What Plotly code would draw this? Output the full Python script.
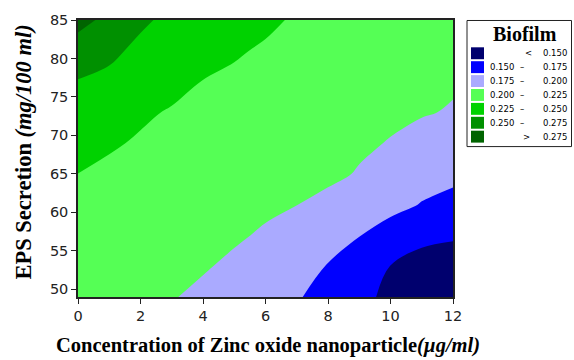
import plotly.graph_objects as go

# ---------------- data ----------------
zno_conc = [0, 1, 2, 3, 4, 5, 6, 7, 8, 9, 10, 11, 12]          # x: µg/ml
eps_secretion = [49, 53, 57, 61, 65, 69, 73, 77, 81, 85]       # y: mg/100 ml

# biofilm response, one row per EPS value (rows) / ZnO concentration (columns)
biofilm = [
    [0.2105, 0.2075, 0.2043, 0.2009, 0.1966, 0.1912, 0.1858, 0.1770, 0.1665, 0.1569, 0.1441, 0.1396, 0.1360],
    [0.2141, 0.2113, 0.2080, 0.2047, 0.2014, 0.1971, 0.1920, 0.1848, 0.1739, 0.1662, 0.1496, 0.1461, 0.1434],
    [0.2177, 0.2150, 0.2118, 0.2085, 0.2053, 0.2020, 0.1981, 0.1926, 0.1839, 0.1755, 0.1652, 0.1526, 0.1515],
    [0.2214, 0.2188, 0.2156, 0.2123, 0.2092, 0.2060, 0.2028, 0.2002, 0.1955, 0.1862, 0.1815, 0.1740, 0.1667],
    [0.2249, 0.2215, 0.2194, 0.2161, 0.2130, 0.2100, 0.2069, 0.2040, 0.2035, 0.1988, 0.1885, 0.1832, 0.1815],
    [0.2329, 0.2270, 0.2232, 0.2199, 0.2169, 0.2141, 0.2109, 0.2078, 0.2054, 0.2026, 0.1992, 0.1930, 0.1876],
    [0.2409, 0.2363, 0.2275, 0.2237, 0.2208, 0.2181, 0.2150, 0.2116, 0.2091, 0.2063, 0.2031, 0.2015, 0.1985],
    [0.2488, 0.2446, 0.2369, 0.2298, 0.2246, 0.2221, 0.2190, 0.2155, 0.2129, 0.2101, 0.2069, 0.2048, 0.2021],
    [0.2647, 0.2550, 0.2447, 0.2371, 0.2312, 0.2267, 0.2231, 0.2193, 0.2166, 0.2138, 0.2107, 0.2081, 0.2058],
    [0.2821, 0.2693, 0.2539, 0.2445, 0.2380, 0.2329, 0.2281, 0.2231, 0.2203, 0.2175, 0.2145, 0.2118, 0.2094],
]

level_start = 0.150
level_end = 0.275
level_step = 0.025

band_colors = ["#00006E", "#0000FF", "#AAAAFF", "#55FF55", "#00D200", "#009000", "#006400"]
band_low = ["", "0.150", "0.175", "0.200", "0.225", "0.250", ""]
band_sym = ["<", "\u2013", "\u2013", "\u2013", "\u2013", "\u2013", ">"]
band_high = ["0.150", "0.175", "0.200", "0.225", "0.250", "0.275", "0.275"]

x_ticks = [0, 2, 4, 6, 8, 10, 12]
y_ticks = [50, 55, 60, 65, 70, 75, 80, 85]

# ---------------- figure ----------------
W, H = 574, 360
L, R, T, B = 78, 453, 18, 297  # plot area in pixels


def px(x):
    return (x - L) / (R - L)


def py(y):
    return (B - y) / (B - T)


n = len(band_colors)
colorscale = [[i / (n - 1), c] for i, c in enumerate(band_colors)]

fig = go.Figure()
fig.add_trace(go.Contour(
    x=zno_conc, y=eps_secretion, z=biofilm,
    autocontour=False,
    contours=dict(start=level_start, end=level_end, size=level_step,
                  coloring="fill", showlines=False),
    colorscale=colorscale, showscale=False,
    line=dict(width=0, smoothing=1.0),
    hoverinfo="skip",
))

serif = "Liberation Serif"
sans = "DejaVu Sans"

axis_common = dict(showline=True, linecolor="#222222", linewidth=1.5, mirror=True,
                   ticks="outside", ticklen=5, tickcolor="#222222", tickwidth=1,
                   showgrid=False, zeroline=False,
                   tickfont=dict(family=sans, size=14.5, color="#222222"))

fig.update_layout(
    width=W, height=H, autosize=False,
    margin=dict(l=L, r=W - R, t=T, b=H - B, pad=0),
    paper_bgcolor="white", plot_bgcolor="white",
    xaxis=dict(range=[0, 12], tickvals=x_ticks, **axis_common),
    yaxis=dict(range=[49, 85], tickvals=y_ticks, **axis_common),
    showlegend=False,
)

shapes = []
annotations = []

# axis titles
annotations.append(dict(
    xref="paper", yref="paper", x=px(268), y=py(346), xanchor="center", yanchor="middle",
    text="<b>Concentration of Zinc oxide nanoparticle<i>(\u00b5g/ml)</i></b>",
    showarrow=False, font=dict(family=serif, size=20.5, color="black")))
annotations.append(dict(
    xref="paper", yref="paper", x=px(24), y=py(151.5), xanchor="center", yanchor="middle",
    text="<b>EPS Secretion <i>(mg/100 ml)</i></b>", textangle=-90,
    showarrow=False, font=dict(family=serif, size=22.5, color="black")))

# legend box
shapes.append(dict(type="rect", xref="paper", yref="paper",
                   x0=px(467), x1=px(571.5), y0=py(145.5), y1=py(18.5),
                   line=dict(color="#222222", width=1), fillcolor="white", layer="above"))
annotations.append(dict(
    xref="paper", yref="paper", x=px(525), y=py(32), xanchor="center", yanchor="middle",
    text="<b>Biofilm</b>", showarrow=False, font=dict(family=serif, size=20, color="black")))

sym_x = {"<": 528.5, "\u2013": 522, ">": 526}
for i in range(n):
    cy = 51.5 + 14 * i
    shapes.append(dict(type="rect", xref="paper", yref="paper",
                       x0=px(471), x1=px(484), y0=py(cy + 6), y1=py(cy - 6),
                       line=dict(width=0), fillcolor=band_colors[i], layer="above"))
    if band_low[i]:
        annotations.append(dict(xref="paper", yref="paper", x=px(515.5), y=py(cy),
                                xanchor="right", yanchor="middle", text=band_low[i], showarrow=False,
                                font=dict(family=sans, size=8.5, color="black")))
    annotations.append(dict(xref="paper", yref="paper", x=px(sym_x[band_sym[i]]), y=py(cy),
                            xanchor="center", yanchor="middle", text=band_sym[i], showarrow=False,
                            font=dict(family=sans, size=8.5, color="black")))
    annotations.append(dict(xref="paper", yref="paper", x=px(540.5), y=py(cy),
                            xanchor="left", yanchor="middle", text=band_high[i], showarrow=False,
                            font=dict(family=sans, size=8.5, color="black")))

fig.update_layout(shapes=shapes, annotations=annotations)
fig.write_html("out.html")
